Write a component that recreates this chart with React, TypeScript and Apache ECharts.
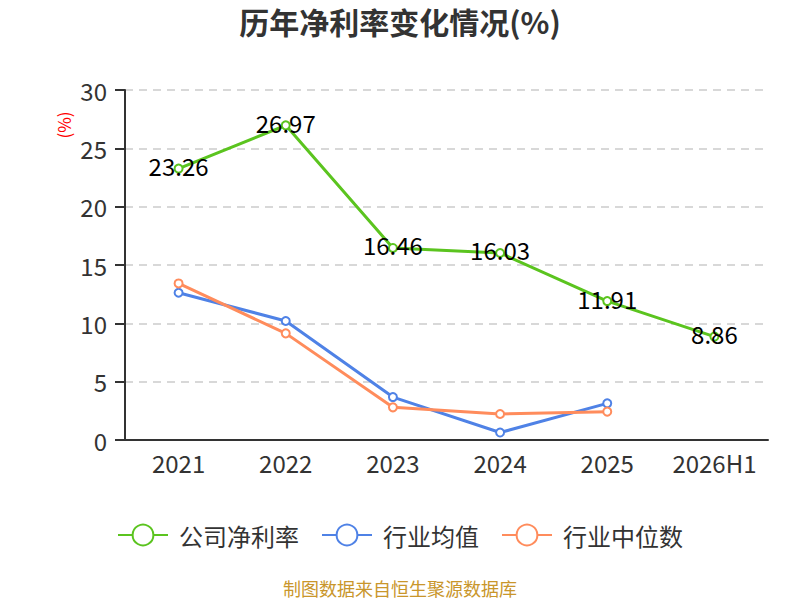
import React, { useEffect, useRef } from "react";
import * as echarts from "echarts";

const categories = ["2021", "2022", "2023", "2024", "2025", "2026H1"];
const companyRate = [23.26, 26.97, 16.46, 16.03, 11.91, 8.86];
const industryAvg = [12.62, 10.2, 3.68, 0.64, 3.14, null];
const industryMedian = [13.42, 9.14, 2.8, 2.23, 2.43, null];
const yTicks = { min: 0, max: 30, interval: 5 };

const FONT = "'Noto Sans CJK SC', 'Noto Sans', sans-serif";

export default function App() {
  const ref = useRef<HTMLDivElement>(null);
  useEffect(() => {
    if (!ref.current) return;
    const chart = echarts.init(ref.current, undefined, { renderer: "svg" });
    chart.setOption({
      animation: false,
      textStyle: { fontFamily: FONT },
      title: {
        text: "历年净利率变化情况(%)",
        left: "center",
        top: 1,
        textStyle: { fontSize: 30, fontWeight: "bold", color: "#333", fontFamily: FONT },
      },
      graphic: [
        {
          type: "text",
          x: 400,
          y: 588,
          style: {
            text: "制图数据来自恒生聚源数据库",
            fill: "#C9962B",
            fontSize: 18,
            fontFamily: FONT,
            align: "center",
            verticalAlign: "middle",
          },
        },
        {
          type: "text",
          x: 63,
          y: 125,
          rotation: Math.PI / 2,
          style: {
            text: "(%)",
            fill: "#FF0000",
            fontSize: 17,
            fontFamily: FONT,
            align: "center",
            verticalAlign: "middle",
          },
        },
      ],
      legend: {
        top: 518,
        left: "center",
        itemWidth: 50,
        itemHeight: 26,
        itemGap: 22,
        textStyle: { fontSize: 24, color: "#333", fontFamily: FONT, padding: [0, 0, 0, 6] },
        data: ["公司净利率", "行业均值", "行业中位数"],
      },
      grid: { left: 125, right: 32, top: 90, bottom: 160 },
      xAxis: {
        type: "category",
        data: categories,
        axisLine: { lineStyle: { color: "#333", width: 2 } },
        axisTick: { interval: 0, length: 8, lineStyle: { color: "#333", width: 2 } },
        axisLabel: { interval: 0, fontSize: 24, color: "#333", margin: 10 },
      },
      yAxis: {
        type: "value",
        min: yTicks.min,
        max: yTicks.max,
        interval: yTicks.interval,
        axisLine: { show: true, lineStyle: { color: "#333", width: 2 } },
        axisTick: { show: true, length: 10, lineStyle: { color: "#333", width: 2 } },
        axisLabel: { fontSize: 24, color: "#333", margin: 18 },
        splitLine: { lineStyle: { color: "#ccc", type: [8, 6], width: 1.5 } },
      },
      series: [
        {
          name: "公司净利率",
          type: "line",
          data: companyRate,
          symbol: "emptyCircle",
          symbolSize: 8,
          itemStyle: { color: "#5BC41F" },
          lineStyle: { width: 3 },
          label: {
            show: true,
            position: "inside",
            offset: [0, -3],
            color: "#000",
            fontSize: 24,
            fontFamily: FONT,
          },
          z: 3,
        },
        {
          name: "行业均值",
          type: "line",
          data: industryAvg,
          symbol: "emptyCircle",
          symbolSize: 8,
          itemStyle: { color: "#4F82E6" },
          lineStyle: { width: 3 },
        },
        {
          name: "行业中位数",
          type: "line",
          data: industryMedian,
          symbol: "emptyCircle",
          symbolSize: 8,
          itemStyle: { color: "#FF8C5C" },
          lineStyle: { width: 3 },
        },
      ],
    });
    return () => chart.dispose();
  }, []);
  return (
    <div
      ref={ref}
      style={{ position: "absolute", left: 0, top: 0, width: 800, height: 600 }}
    />
  );
}
